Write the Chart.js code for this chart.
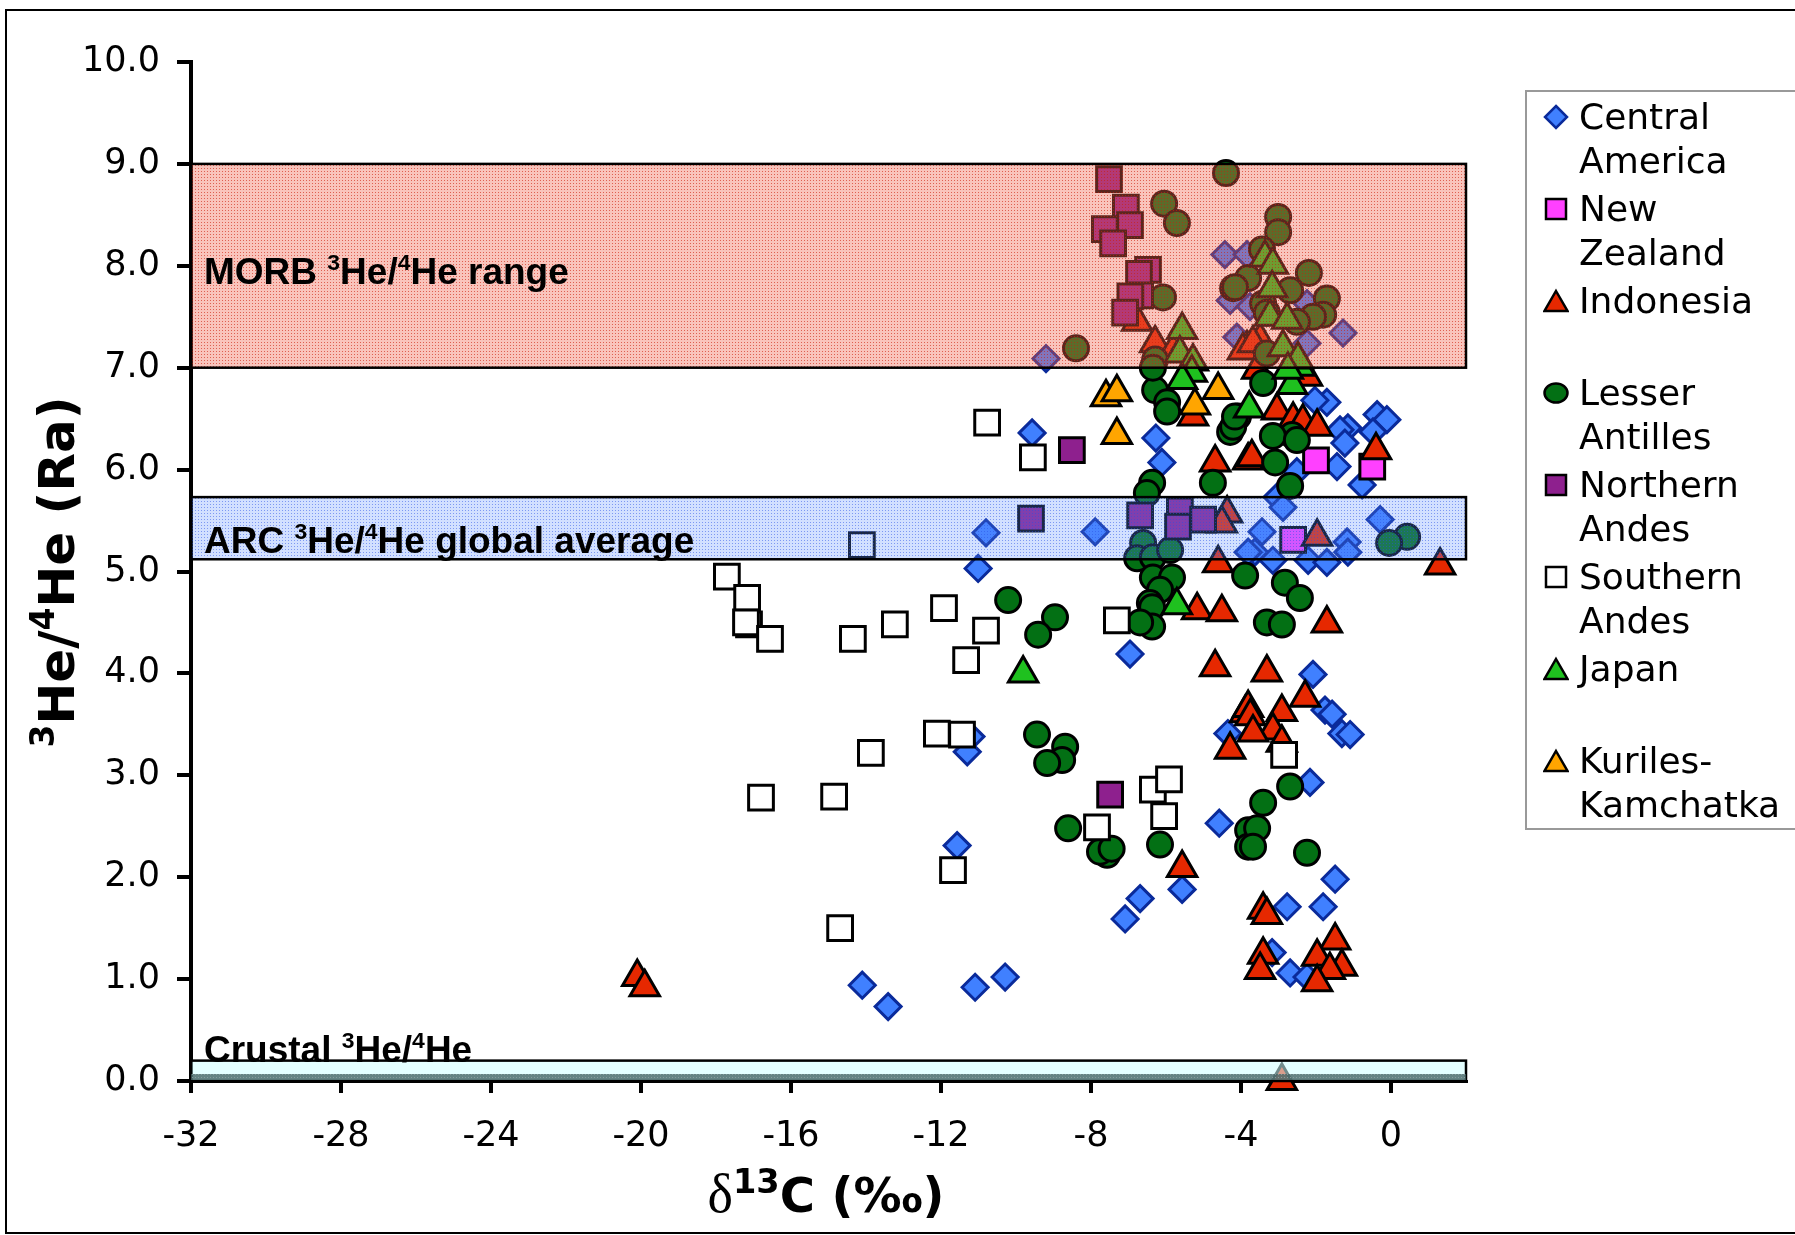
<!DOCTYPE html>
<html>
<head>
<meta charset="utf-8">
<script src="https://cdn.jsdelivr.net/npm/chart.js@4.4.1/dist/chart.umd.min.js"></script>
<style>
  html, body { margin: 0; padding: 0; background: #fff; }
  #wrap { position: relative; width: 1795px; height: 1235px; overflow: hidden; background: #fff; }
  #c { position: absolute; left: 0; top: 0; }
  #frame { position: absolute; left: 5px; top: 9px; width: 1800px; height: 1221px; border: 2px solid #000; pointer-events: none; }
  .band-label { position: absolute; font-family: "Liberation Sans", Arial, sans-serif; font-weight: bold; font-size: 37px; line-height: 37px; white-space: nowrap; color: #000; }
  .band-label sup { font-size: 0.62em; vertical-align: 0.6em; line-height: 0; }
  #ytitle { position: absolute; left: 57px; top: 572px; transform: translate(-50%, -50%) rotate(-90deg); font-family: "DejaVu Sans", Verdana, sans-serif; font-weight: bold; font-size: 50px; line-height: 50px; white-space: nowrap; }
  #ytitle sup { font-size: 0.66em; vertical-align: 0.6em; line-height: 0; }
  #xtitle { position: absolute; left: 826px; top: 1194px; transform: translate(-50%, -50%); font-family: "DejaVu Sans", Verdana, sans-serif; font-weight: bold; font-size: 48px; line-height: 48px; white-space: nowrap; }
  #xtitle sup { font-size: 0.7em; vertical-align: 0.55em; line-height: 0; }
  #xtitle .d { font-family: "Liberation Serif", "Times New Roman", serif; font-weight: normal; font-size: 54px; }
  #legend { position: absolute; left: 1525px; top: 90px; width: 300px; height: 736px; border: 2px solid #999; background: #fff; }
  .lg { position: absolute; left: 0; width: 300px; }
  .lg svg { position: absolute; left: 16px; top: 9px; }
  .lg div { position: absolute; left: 52px; top: 0; font-family: "DejaVu Sans", Verdana, sans-serif; font-size: 36px; line-height: 43.5px; white-space: nowrap; color: #000; }
</style>
</head>
<body>
<div id="wrap">
  <canvas id="c" width="1795" height="1235"></canvas>
  <div id="frame"></div>
  <div class="band-label" style="left:204px; top:253px;">MORB <sup>3</sup>He/<sup>4</sup>He range</div>
  <div class="band-label" style="left:204px; top:522px;">ARC <sup>3</sup>He/<sup>4</sup>He global average</div>
  <div class="band-label" style="left:204px; top:1031px;">Crustal <sup>3</sup>He/<sup>4</sup>He</div>
  <div id="ytitle"><sup>3</sup>He/<sup>4</sup>He (Ra)</div>
  <div id="xtitle"><span class="d">δ</span><sup>13</sup>C (‰)</div>
  <div id="legend"></div>
</div>
<script>
// ---------------- DATA ----------------
const seriesNames = ['Central America', 'New Zealand', 'Indonesia', 'Lesser Antilles', 'Northern Andes', 'Southern Andes', 'Japan', 'Kuriles-Kamchatka'];
const legendLines = [['Central', 'America'], ['New', 'Zealand'], ['Indonesia', ''], ['Lesser', 'Antilles'], ['Northern', 'Andes'], ['Southern', 'Andes'], ['Japan', ''], ['Kuriles-', 'Kamchatka']];

const xTickValues = [-32, -28, -24, -20, -16, -12, -8, -4, 0];
const yTickLabels = ['0.0', '1.0', '2.0', '3.0', '4.0', '5.0', '6.0', '7.0', '8.0', '9.0', '10.0'];

const morbRange = [7.0, 9.0];
const arcRange = [5.12, 5.73];
const crustalRange = [0.0, 0.2];

const centralAmerica = [
  [-9.2, 7.09], [-9.57, 6.36], [-10.8, 5.38], [-11.01, 5.03], [-7.89, 5.39], [-6.27, 6.31], [-6.11, 6.07], [-6.96, 4.19],
  [-11.2, 3.38], [-11.3, 3.23], [-11.57, 2.31], [-14.1, 0.94], [-13.41, 0.73], [-11.09, 0.92], [-10.29, 1.02],
  [-7.09, 1.59], [-6.69, 1.79], [-5.57, 1.88], [-4.58, 2.53], [-4.35, 3.41], [-2.08, 3.99], [-1.76, 3.64], [-1.57, 3.6],
  [-1.31, 3.41], [-1.09, 3.4], [-2.16, 2.93], [-2.77, 1.71], [-1.81, 1.71], [-1.49, 1.98], [-3.17, 1.26], [-2.69, 1.06], [-2.24, 1.02],
  [-1.71, 6.66], [-2.03, 6.68], [-0.37, 6.54], [-0.11, 6.49], [-1.15, 6.41], [-1.36, 6.39], [-0.48, 6.37], [-1.23, 6.26],
  [-1.44, 6.03], [-0.77, 5.85], [-2.51, 5.98], [-3.04, 5.73], [-2.88, 5.63], [-3.44, 5.39], [-3.63, 5.19], [-3.15, 5.11],
  [-2.21, 5.11], [-1.71, 5.09], [-1.17, 5.29], [-1.15, 5.19], [-0.29, 5.51], [-3.81, 5.19],
  [-4.43, 8.11], [-3.84, 8.11], [-4.29, 7.66], [-1.28, 7.34], [-2.24, 7.63], [-2.24, 7.24], [-3.76, 7.6], [-4.11, 7.3]
];
const newZealand = [[-2.0, 6.09], [-2.61, 5.31], [-0.5, 6.03]];
const indonesia = [
  [-20.1, 1.02], [-19.9, 0.92], [1.31, 5.06], [-0.4, 6.19], [-2.91, 0.0],
  [-6.77, 7.45], [-6.29, 7.24], [-5.81, 7.17], [-3.84, 7.19], [-3.49, 7.27], [-3.95, 7.17], [-3.68, 7.24],
  [-5.28, 6.52], [-4.69, 6.07], [-3.81, 6.09], [-4.37, 5.57], [-4.51, 5.47], [-4.61, 5.08],
  [-3.04, 6.58], [-2.61, 6.49], [-2.35, 6.47], [-1.97, 6.42], [-3.71, 6.12], [-1.97, 5.34], [-2.24, 6.91], [-3.57, 6.98],
  [-5.17, 4.62], [-4.51, 4.6], [-4.69, 4.06], [-3.89, 3.61], [-4.29, 3.25], [-5.57, 2.09],
  [-1.71, 4.49], [-3.31, 4.01], [-2.29, 3.76], [-3.81, 3.66], [-3.75, 3.58], [-2.91, 3.62], [-3.15, 3.44], [-3.68, 3.42], [-2.91, 3.32],
  [-3.41, 1.68], [-3.31, 1.63], [-3.41, 1.24], [-3.49, 1.09], [-1.49, 1.38], [-1.97, 1.22], [-1.31, 1.12], [-1.63, 1.09], [-1.97, 0.97]
];
const lesserAntilles = [
  [-4.4, 8.91], [-6.05, 8.61], [-5.71, 8.42], [-6.08, 7.69], [-8.4, 7.19], [-4.21, 7.78], [-3.81, 7.88], [-6.29, 7.08],
  [-3.01, 8.48], [-3.01, 8.33], [-2.19, 7.93], [-2.69, 7.76], [-1.71, 7.68], [-1.81, 7.52], [-2.08, 7.5], [-4.16, 7.79],
  [-3.41, 7.63], [-3.31, 7.54], [-2.51, 7.45], [-3.31, 7.14], [-3.44, 8.16],
  [-6.29, 6.78], [-5.97, 6.66], [-5.97, 6.57], [-4.29, 6.37], [-4.08, 6.52], [-4.75, 5.87], [-6.37, 5.87], [-6.51, 5.77],
  [-6.61, 5.28], [-6.77, 5.13], [-6.35, 5.14], [-5.89, 5.21], [-6.35, 4.94], [-5.84, 4.94], [-6.16, 4.82], [-6.43, 4.69],
  [-10.21, 4.72], [-8.96, 4.55], [-6.35, 7.0], [-3.89, 4.96],
  [-2.64, 6.34], [-3.15, 6.33], [-3.09, 6.07], [-2.69, 5.84], [-2.83, 4.89], [-2.43, 4.74], [-4.21, 6.42], [-4.16, 6.52],
  [-3.41, 6.85], [-2.51, 6.29], [0.43, 5.34], [-0.05, 5.28],
  [-9.41, 4.38], [-6.37, 4.65], [-6.37, 4.46], [-6.69, 4.5], [-9.44, 3.4], [-8.69, 3.28], [-8.77, 3.15], [-9.17, 3.12],
  [-8.61, 2.48], [-7.57, 2.22], [-7.76, 2.25], [-7.45, 2.28], [-6.16, 2.32], [-3.81, 2.46], [-3.81, 2.3],
  [-3.31, 4.5], [-2.91, 4.48], [-2.69, 2.89], [-3.41, 2.73], [-3.57, 2.48], [-3.68, 2.3], [-2.24, 2.24]
];
const northernAndes = [
  [-7.52, 8.85], [-7.07, 8.57], [-6.96, 8.4], [-7.63, 8.36], [-7.41, 8.22], [-6.48, 7.96], [-6.72, 7.92], [-6.69, 7.71],
  [-6.95, 7.7], [-7.09, 7.54],
  [-8.51, 6.19], [-9.6, 5.52], [-6.69, 5.55], [-5.63, 5.6], [-5.68, 5.44], [-5.01, 5.51], [-7.49, 2.81]
];
const southernAndes = [
  [-10.77, 6.46], [-14.11, 5.26], [-17.71, 4.95], [-17.17, 4.74], [-17.12, 4.48], [-17.2, 4.5], [-16.56, 4.34], [-14.35, 4.34],
  [-13.23, 4.48], [-11.92, 4.64], [-10.8, 4.42], [-11.33, 4.13], [-12.11, 3.41], [-11.44, 3.4], [-9.55, 6.12], [-7.31, 4.52],
  [-13.87, 3.22], [-16.8, 2.78], [-14.85, 2.79], [-11.68, 2.07], [-14.69, 1.5], [-7.84, 2.49], [-6.35, 2.86], [-5.92, 2.96],
  [-6.05, 2.6], [-2.85, 3.2]
];
const japan = [
  [-9.81, 4.0], [-5.71, 4.67], [-5.57, 7.37], [-5.63, 7.14], [-5.28, 7.06], [-5.31, 6.95], [-5.57, 6.88], [-3.78, 6.6],
  [-2.64, 6.83], [-2.43, 7.01], [-3.36, 8.08], [-3.15, 8.01], [-3.17, 7.78], [-3.23, 7.5], [-2.77, 7.47], [-2.88, 7.2],
  [-2.48, 7.08], [-2.75, 6.98]
];
const kurilesKamchatka = [[-7.6, 6.71], [-7.31, 6.76], [-7.31, 6.34], [-5.23, 6.63], [-4.61, 6.78]];

const seriesValues = [centralAmerica, newZealand, indonesia, lesserAntilles, northernAndes, southernAndes, japan, kurilesKamchatka];

// ---------------- STYLE ----------------
const seriesStyles = [
  { shape: 'rectRot',  r: 13,   fill: '#4080FF', line: '#0A2A9A' },
  { shape: 'rect',     r: 17.5, fill: '#FF40FF', line: '#000000' },
  { shape: 'triangle', r: 17,   fill: '#E62800', line: '#000000' },
  { shape: 'circle',   r: 12.5, fill: '#037014', line: '#000000' },
  { shape: 'rect',     r: 17.5, fill: '#8E208E', line: '#000000' },
  { shape: 'rect',     r: 17.5, fill: '#FFFFFF', line: '#000000' },
  { shape: 'triangle', r: 17,   fill: '#1FC11F', line: '#000000' },
  { shape: 'triangle', r: 17,   fill: '#FFA500', line: '#000000' }
];

const FONT = '"DejaVu Sans", Verdana, sans-serif';

const datasets = seriesNames.map((name, i) => ({
  label: name,
  data: seriesValues[i].map(p => ({ x: p[0], y: p[1] })),
  pointStyle: seriesStyles[i].shape,
  pointRadius: seriesStyles[i].r,
  pointBackgroundColor: seriesStyles[i].fill,
  pointBorderColor: seriesStyles[i].line,
  pointBorderWidth: 3,
  showLine: false,
  clip: false,
  order: seriesNames.length - i
}));

function makePattern(ctx, bg, dot, size) {
  const c = document.createElement('canvas');
  c.width = size; c.height = size;
  const g = c.getContext('2d');
  g.fillStyle = bg; g.fillRect(0, 0, size, size);
  g.fillStyle = dot; g.fillRect(0, 0, 1, 1);
  return ctx.createPattern(c, 'repeat');
}

const bandsPlugin = {
  id: 'bands',
  afterDatasetsDraw(chart) {
    const { ctx, scales } = chart;
    const xs = scales.x, ys = scales.y;
    const left = xs.getPixelForValue(xs.min), right = xs.getPixelForValue(xs.max);
    const bands = [
      { range: morbRange, fill: makePattern(ctx, 'rgba(240,100,80,0.38)', 'rgba(205,30,10,0.6)', 3) },
      { range: arcRange, fill: makePattern(ctx, 'rgba(95,145,255,0.28)', 'rgba(40,80,230,0.5)', 3) },
      { range: crustalRange, fill: 'rgba(205,255,255,0.55)' }
    ];
    ctx.save();
    bands.forEach(b => {
      const top = ys.getPixelForValue(b.range[1]);
      const bot = ys.getPixelForValue(b.range[0]);
      ctx.fillStyle = b.fill;
      ctx.fillRect(left, top, right - left, bot - top);
      ctx.lineWidth = 2.5;
      ctx.strokeStyle = '#000';
      ctx.strokeRect(left, top, right - left, bot - top);
    });
    const z = ys.getPixelForValue(crustalRange[0]);
    ctx.fillStyle = makePattern(ctx, 'rgba(70,100,100,0.8)', 'rgba(140,160,160,0.9)', 3);
    ctx.fillRect(left, z - 7, right - left, 6);
    ctx.restore();
  }
};

const chart = new Chart(document.getElementById('c'), {
  type: 'scatter',
  data: { datasets },
  plugins: [bandsPlugin],
  options: {
    responsive: false,
    animation: false,
    devicePixelRatio: 1,
    layout: { padding: { left: 0, top: 62, right: 329, bottom: 0 } },
    plugins: { legend: { display: false }, tooltip: { enabled: false } },
    scales: {
      x: {
        type: 'linear', min: -32, max: 2,
        afterFit(s) { s.height = 154; },
        afterBuildTicks(s) { s.ticks = xTickValues.map(v => ({ value: v })); },
        ticks: { font: { family: FONT, size: 35 }, color: '#000', padding: 23, maxRotation: 0, autoSkip: false,
                 callback: v => String(v) },
        grid: { drawOnChartArea: false, drawTicks: true, tickLength: 12, lineWidth: 4, color: '#000' },
        border: { display: true, width: 3, color: '#000' }
      },
      y: {
        type: 'linear', min: 0, max: 10,
        afterFit(s) { s.width = 191; },
        afterBuildTicks(s) { s.ticks = yTickLabels.map(t => ({ value: parseFloat(t) })); },
        ticks: { font: { family: FONT, size: 35 }, color: '#000', padding: 17, autoSkip: false,
                 callback: (v, i) => yTickLabels[i] },
        grid: { drawOnChartArea: false, drawTicks: true, tickLength: 14, lineWidth: 4, color: '#000' },
        border: { display: true, width: 4, color: '#000' }
      }
    }
  }
});

// ---------------- HTML legend ----------------
function symbolSVG(st) {
  const s = 26;
  let shape = '';
  const common = `fill="${st.fill}" stroke="${st.line}" stroke-width="2.5"`;
  if (st.shape === 'rectRot') shape = `<polygon points="13,2 24,13 13,24 2,13" ${common}/>`;
  else if (st.shape === 'rect') shape = `<rect x="3" y="3" width="20" height="20" ${common}/>`;
  else if (st.shape === 'triangle') shape = `<polygon points="13,3 24.5,23 1.5,23" ${common}/>`;
  else shape = `<ellipse cx="13" cy="13" rx="11.5" ry="9.5" ${common}/>`;
  return `<svg width="${s}" height="${s}" viewBox="0 0 ${s} ${s}">${shape}</svg>`;
}
const legend = document.getElementById('legend');
seriesNames.forEach((name, i) => {
  const el = document.createElement('div');
  el.className = 'lg';
  el.style.top = (95 - 90 - 2 + 92 * i) + 'px';
  el.innerHTML = symbolSVG(seriesStyles[i]) + `<div>${legendLines[i][0]}<br>${legendLines[i][1] || '&nbsp;'}</div>`;
  legend.appendChild(el);
});
</script>
</body>
</html>
